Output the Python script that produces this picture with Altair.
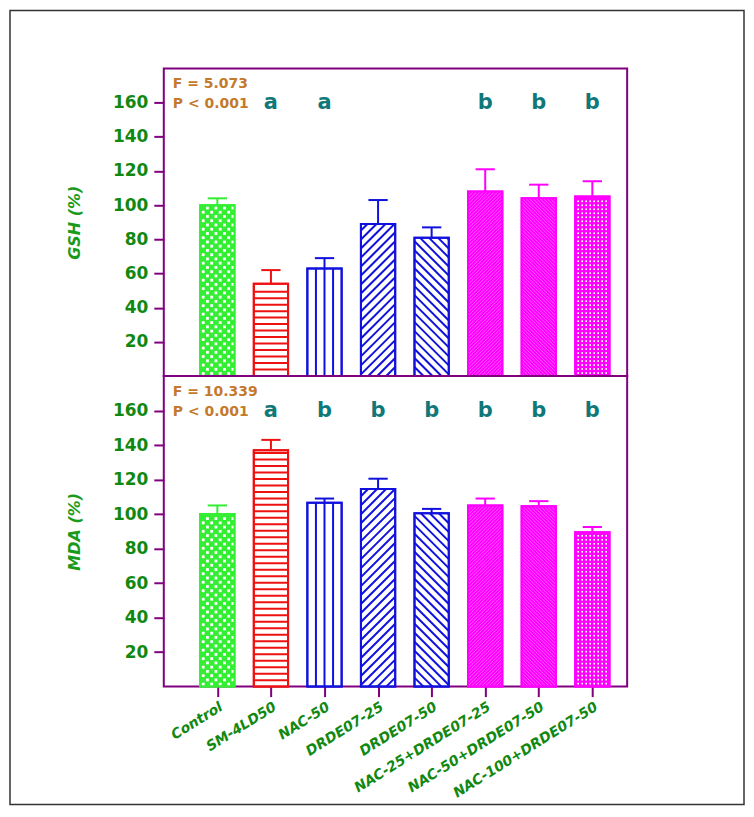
import json
import altair as alt
import pandas as pd

# ---------------- data ----------------
groups = ["Control", "SM-4LD50", "NAC-50", "DRDE07-25", "DRDE07-50",
          "NAC-25+DRDE07-25", "NAC-50+DRDE07-50", "NAC-100+DRDE07-50"]
gsh_mean = [100, 54, 63, 89, 81, 108, 104, 105]
gsh_err = [4, 8, 6, 14, 6, 13, 8, 9]
mda_mean = [100, 137, 106.5, 114.5, 100.5, 105, 104.5, 89.5]
mda_err = [5, 6, 2.5, 6, 2.5, 4, 3, 3]
gsh_letters = ["", "a", "a", "", "", "b", "b", "b"]
mda_letters = ["", "a", "b", "b", "b", "b", "b", "b"]
gsh_stats = ["F = 5.073", "P < 0.001"]
mda_stats = ["F = 10.339", "P < 0.001"]
y_ticks = [20, 40, 60, 80, 100, 120, 140, 160]

# ---------------- style ----------------
GREEN, RED, BLUE, MAG = "#33ee33", "#ee1111", "#1111dd", "#ff00ff"
fills = [GREEN, "white", "white", "white", "white", MAG, MAG, MAG]
strokes = [GREEN, RED, BLUE, BLUE, BLUE, MAG, MAG, MAG]
patterns = ["greendots", "hlines", "vlines", "diag_up", "diag_down",
            "fine_up", "fine_down", "griddots"]
PURPLE = "#800080"
LBL = "#118811"
TEAL = "#107878"
STAT = "#c47a2c"
FONT = "DejaVu Sans"

W = 464
H_TOP = 308
H_BOT = 311
XMAX = 8.65
YMAX = 180
BW = 0.64
CAP = 0.18
positions = list(range(1, len(groups) + 1))

xscale = alt.Scale(domain=[0, XMAX], nice=False, zero=False)
yscale = alt.Scale(domain=[0, YMAX], nice=False)


def pattern_rows(values, H):
    pxx = W / XMAX
    pxy = H / YMAX
    lines, dots = [], []
    for pos, v, kind, col in zip(positions, values, patterns, strokes):
        w = BW * pxx
        h = v * pxy
        x0 = pos - BW / 2

        def X(t):
            return x0 + t / pxx

        def Y(s):
            return s / pxy

        def diag(step, up, color, sw, op):
            d = -w
            while d < h:
                t_lo = max(0.0, -d)
                t_hi = min(w, h - d)
                if t_hi > t_lo:
                    ya, yb = t_lo + d, t_hi + d
                    if up:
                        xa, xb = t_lo, t_hi
                    else:
                        xa, xb = w - t_lo, w - t_hi
                    lines.append(dict(x=X(xa), x2=X(xb), y=Y(ya), y2=Y(yb),
                                      c=color, sw=sw, op=op))
                d += step

        if kind == "hlines":
            s = 6.5
            while s < h - 2:
                lines.append(dict(x=X(0), x2=X(w), y=Y(s), y2=Y(s), c=col, sw=2, op=1))
                s += 6.5
        elif kind == "vlines":
            for f in (0.25, 0.5, 0.75):
                lines.append(dict(x=X(w * f), x2=X(w * f), y=0, y2=v, c=col, sw=2, op=1))
        elif kind == "diag_up":
            diag(9, True, col, 2, 1)
        elif kind == "diag_down":
            diag(9, False, col, 2, 1)
        elif kind == "fine_up":
            diag(3.5, True, "white", 0.8, 0.45)
        elif kind == "fine_down":
            diag(3.5, False, "white", 0.8, 0.45)
        elif kind == "greendots":
            k = 0
            s = 2.5
            while s < h - 1.5:
                t = 3.0 + (k % 2) * 4.25
                while t < w - 1.5:
                    dots.append(dict(x=X(t), y=Y(s), c="white", sz=8))
                    t += 8.5
                s += 4.25
                k += 1
        elif kind == "griddots":
            s = 3.0
            while s < h - 1.5:
                t = 3.0
                while t < w - 1.5:
                    dots.append(dict(x=X(t), y=Y(s), c="white", sz=3))
                    t += 4.0
                s += 4.0
    return pd.DataFrame(lines), pd.DataFrame(dots)


def panel(means, errs, letters, stats, ytitle, H, bottom, frame):
    bars = pd.DataFrame({
        "group": groups, "pos": positions, "mean": means,
        "top": [m + e for m, e in zip(means, errs)],
        "left": [p - BW / 2 for p in positions],
        "right": [p + BW / 2 for p in positions],
        "capl": [p - CAP for p in positions],
        "capr": [p + CAP for p in positions],
        "fill": fills, "stroke": strokes, "letter": letters,
        "lety": [160] * len(groups),
    })
    lines_df, dots_df = pattern_rows(means, H)

    if bottom:
        labels_js = json.dumps(groups)
        xaxis = alt.Axis(values=positions, labelExpr=f"{labels_js}[datum.value - 1]",
                         title=None, grid=False, domain=False,
                         tickColor=PURPLE, tickWidth=2, tickSize=10,
                         labelAngle=-32, labelAlign="right", labelBaseline="top",
                         labelPadding=3, labelFont=FONT, labelFontSize=14,
                         labelFontWeight="bold", labelFontStyle="italic",
                         labelColor=LBL, labelOverlap=False)
    else:
        xaxis = None
    yaxis = alt.Axis(values=y_ticks, title=ytitle, grid=False, domain=False,
                     tickColor=PURPLE, tickWidth=2, tickSize=10, labelPadding=6,
                     labelFont=FONT, labelFontSize=17, labelFontWeight="bold",
                     labelColor=LBL, titleFont=FONT, titleFontSize=16,
                     titleFontWeight="bold", titleFontStyle="italic",
                     titleColor="#1a9a1a", titlePadding=30)

    base = alt.Chart(bars)
    rect = base.mark_rect(strokeWidth=2).encode(
        x=alt.X("left:Q", scale=xscale, axis=xaxis),
        x2="right:Q",
        y=alt.Y("mean:Q", scale=yscale, axis=yaxis),
        y2=alt.datum(0),
        fill=alt.Fill("fill:N", scale=None),
        stroke=alt.Stroke("stroke:N", scale=None),
    )
    layers = [rect]
    if len(lines_df):
        layers.append(alt.Chart(lines_df).mark_rule().encode(
            x=alt.X("x:Q", scale=xscale), x2="x2:Q",
            y=alt.Y("y:Q", scale=yscale), y2="y2:Q",
            color=alt.Color("c:N", scale=None),
            strokeWidth=alt.StrokeWidth("sw:Q", scale=None),
            opacity=alt.Opacity("op:Q", scale=None),
        ))
    if len(dots_df):
        layers.append(alt.Chart(dots_df).mark_point(shape="square", filled=True, opacity=1,
                                                     strokeWidth=0).encode(
            x=alt.X("x:Q", scale=xscale),
            y=alt.Y("y:Q", scale=yscale),
            color=alt.Color("c:N", scale=None),
            size=alt.Size("sz:Q", scale=None),
        ))
    outline = base.mark_rect(fillOpacity=0, strokeWidth=2).encode(
        x=alt.X("left:Q", scale=xscale), x2="right:Q",
        y=alt.Y("mean:Q", scale=yscale), y2=alt.datum(0),
        stroke=alt.Stroke("stroke:N", scale=None),
    )
    err = base.mark_rule(strokeWidth=2).encode(
        x=alt.X("pos:Q", scale=xscale),
        y=alt.Y("mean:Q", scale=yscale), y2="top:Q",
        color=alt.Color("stroke:N", scale=None),
    )
    cap = base.mark_rule(strokeWidth=2).encode(
        x=alt.X("capl:Q", scale=xscale), x2="capr:Q",
        y=alt.Y("top:Q", scale=yscale),
        color=alt.Color("stroke:N", scale=None),
    )
    let = base.mark_text(font=FONT, fontSize=21, fontWeight="bold", color=TEAL,
                         baseline="middle").encode(
        x=alt.X("pos:Q", scale=xscale),
        y=alt.Y("lety:Q", scale=yscale),
        text="letter:N",
    )
    st = pd.DataFrame({"t": stats, "py": [16, 36]})
    stat = alt.Chart(st).mark_text(font=FONT, fontSize=14, fontWeight="bold", color=STAT,
                                   align="left", baseline="middle").encode(
        x=alt.value(9), y=alt.Y("py:Q", scale=None), text="t:N")
    layers += [outline, err, cap, let, stat]
    if frame:
        fr = alt.Chart(pd.DataFrame({"a": [0]})).mark_rect(
            fillOpacity=0, stroke="#333333", strokeWidth=1.5).encode(
            x=alt.value(-154), x2=alt.value(581), y=alt.value(-58), y2=alt.value(737))
        layers.append(fr)
    return alt.layer(*layers).properties(width=W, height=H)


top = panel(gsh_mean, gsh_err, gsh_letters, gsh_stats, "GSH (%)", H_TOP, False, True)
bot = panel(mda_mean, mda_err, mda_letters, mda_stats, "MDA (%)", H_BOT, True, False)

chart = alt.vconcat(top, bot, spacing=0, bounds="flush").properties(
    padding=0, background="white"
).configure_view(stroke=PURPLE, strokeWidth=2)

chart.save("out.html", embed_options={"renderer": "svg", "actions": False})
